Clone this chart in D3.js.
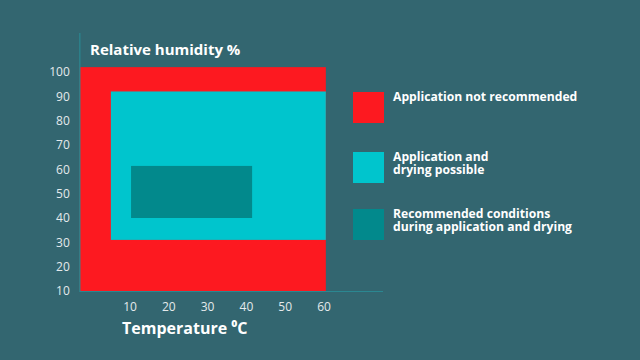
<!DOCTYPE html>
<html><head><meta charset="utf-8">
<script src="https://cdn.jsdelivr.net/npm/d3@7"></script>
<style>
html,body{margin:0;padding:0;background:#336670;}
svg{display:block;font-family:"Open Sans",sans-serif;}
</style></head>
<body><svg id="c" width="640" height="360"></svg>
<script>
// Data
const categories = ["Application not recommended", "Application and\ndrying possible", "Recommended conditions\nduring application and drying"];
const tempMin = [-2.8, 5.2, 10.4];   // °C
const tempMax = [60.6, 60.6, 41.6];
const humMin = [10, 31, 40];         // %
const humMax = [102, 92, 61.4];
const colors = ["#fd1920", "#00c5cd", "#02898c"];
const xTicks = [10, 20, 30, 40, 50, 60];
const yTicks = [10, 20, 30, 40, 50, 60, 70, 80, 90, 100];

const svg = d3.select("#c");
const x = d3.scaleLinear().domain([10, 60]).range([129.5, 323.5]);
const y = d3.scaleLinear().domain([10, 100]).range([291, 72]);

// regions
svg.append("g").selectAll("rect").data(categories).join("rect")
  .attr("x", (d,i) => x(tempMin[i]))
  .attr("y", (d,i) => y(humMax[i]))
  .attr("width", (d,i) => x(tempMax[i]) - x(tempMin[i]))
  .attr("height", (d,i) => y(humMin[i]) - y(humMax[i]))
  .attr("fill", (d,i) => colors[i]);

// axis lines
const ax0 = x(tempMin[0]), ay0 = y(humMin[0]);
svg.append("line").attr("x1", ax0).attr("x2", ax0).attr("y1", 33).attr("y2", ay0+1)
  .attr("stroke", "#2b8791").attr("stroke-width", 1.2);
svg.append("line").attr("x1", ax0).attr("x2", 383).attr("y1", ay0+0.5).attr("y2", ay0+0.5)
  .attr("stroke", "#2b8791").attr("stroke-width", 1.2);

// axes
const yAxis = svg.append("g").attr("transform", `translate(${ax0},0)`)
  .call(d3.axisLeft(y).tickValues(yTicks).tickSize(0).tickPadding(10));
const xAxis = svg.append("g").attr("transform", `translate(0,${ay0})`)
  .call(d3.axisBottom(x).tickValues(xTicks).tickSize(0).tickPadding(11.5));
[yAxis, xAxis].forEach(g => {
  g.select(".domain").remove();
  g.selectAll("text").attr("fill", "#e4eaec").style("font-size", "12px").style("font-family", "'Open Sans',sans-serif");
});

// titles
svg.append("text").attr("x", 90).attr("y", 54.5).attr("fill", "#fff")
  .style("font-size", "15px").style("font-weight", "bold").text("Relative humidity %");
svg.append("text").attr("x", 122).attr("y", 334).attr("fill", "#fff")
  .style("font-size", "16px").style("font-weight", "bold").text("Temperature ⁰C");

// legend
const legTop = [92, 152, 209];
const lg = svg.append("g").selectAll("g").data(categories).join("g")
  .attr("transform", (d,i) => `translate(353,${legTop[i]})`);
lg.append("rect").attr("width", 31).attr("height", 31).attr("fill", (d,i) => colors[i]);
lg.each(function(d) {
  const g = d3.select(this);
  d.split("\n").forEach((line, j) => {
    g.append("text").attr("x", 40).attr("y", 9 + j * 12.5).attr("fill", "#fff")
      .style("font-size", "12.15px").style("font-weight", "bold").text(line);
  });
});
</script></body></html>
